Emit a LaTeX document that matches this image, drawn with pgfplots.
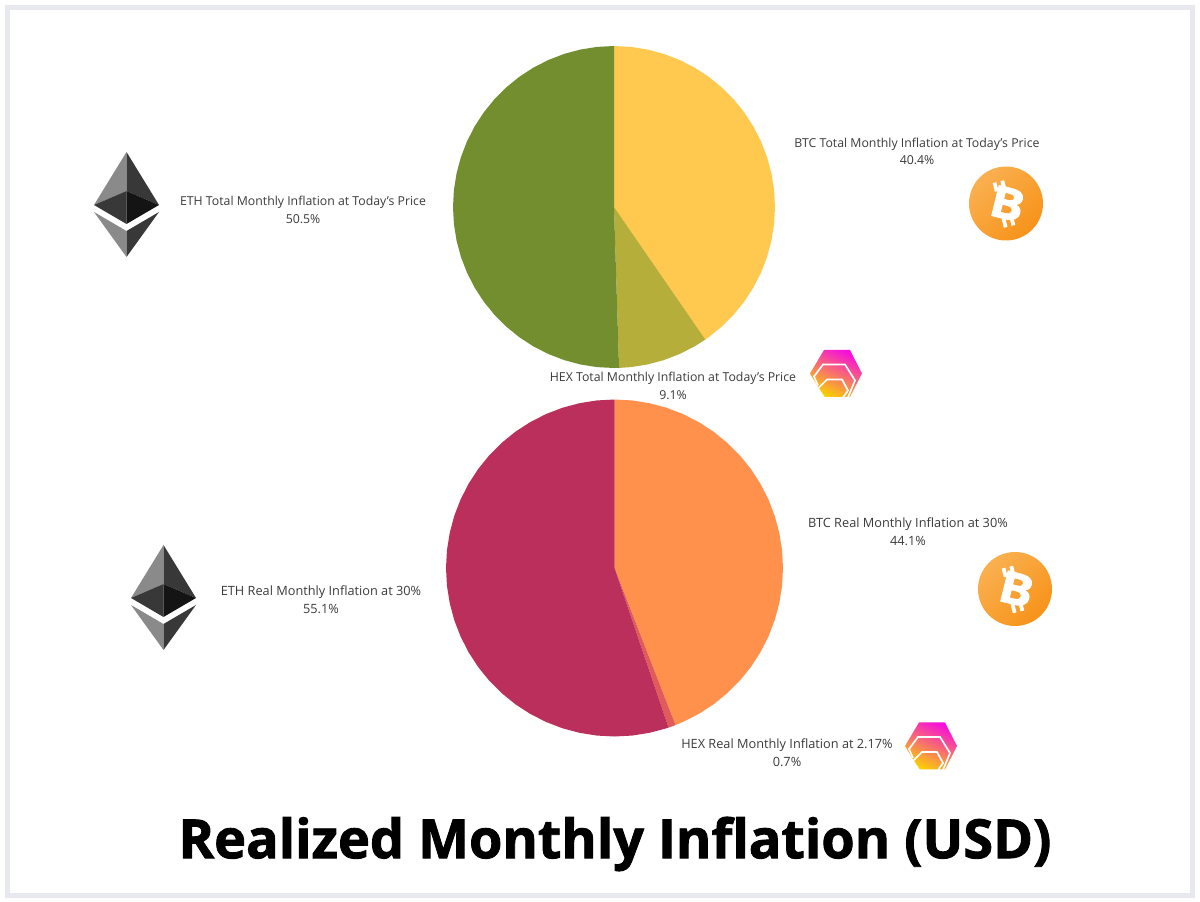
\documentclass[border=0pt]{standalone}
\usepackage{pgfplots}
\pgfplotsset{compat=1.18}
\usepackage{fontspec}
\setmainfont{Open Sans}
\newfontfamily\titlefont[BoldFeatures={FakeBold=1.6}]{Open Sans}
\definecolor{frame}{HTML}{E8E9EF}
\definecolor{btcA}{HTML}{FFC84F}
\definecolor{hexA}{HTML}{B5AE3A}
\definecolor{ethA}{HTML}{728E2E}
\definecolor{btcB}{HTML}{FF914D}
\definecolor{hexB}{HTML}{E15B5B}
\definecolor{ethB}{HTML}{BB2F5C}
\definecolor{lab}{HTML}{3A3A3A}
\tikzset{lbl/.style={font=\fontsize{12.3}{17.6}\selectfont, text=lab, align=center, inner sep=0pt},
         lblb/.style={font=\fontsize{12.75}{17.6}\selectfont, text=lab, align=center, inner sep=0pt}}
\begin{document}
\begin{tikzpicture}
\path[use as bounding box] (0,0) rectangle (1200pt,902pt);
\begin{axis}[
  at={(0pt,0pt)}, anchor=south west,
  scale only axis, width=1200pt, height=902pt,
  xmin=0, xmax=1200, ymin=0, ymax=902, y dir=reverse,
  hide axis, clip=false,
]
% --- top pie: BTC 40.4, HEX 9.1, ETH 50.5
\addplot[draw=none, fill=btcA] table[x expr={614+161*\thisrow{s}}, y expr={207-161*\thisrow{c}}] {
s c
0 0
0 1
.1045 .9945
.2079 .9781
.3090 .9511
.4067 .9135
.5 .8660
.5878 .8090
.6691 .7431
.7431 .6691
.8090 .5878
.8660 .5
.9135 .4067
.9511 .3090
.9781 .2079
.9945 .1045
1 0
.9945 -.1045
.9781 -.2079
.9511 -.3090
.9135 -.4067
.8660 -.5
.8090 -.5878
.7431 -.6691
.6691 -.7431
.5878 -.8090
.5673 -.8235
};
\addplot[draw=none, fill=hexA] table[x expr={614+161*\thisrow{s}}, y expr={207-161*\thisrow{c}}] {
s c
0 0
.5673 -.8235
.5 -.8660
.4067 -.9135
.3090 -.9511
.2079 -.9781
.1045 -.9945
.0314 -.9995
};
\addplot[draw=none, fill=ethA] table[x expr={614+161*\thisrow{s}}, y expr={207-161*\thisrow{c}}] {
s c
0 0
.0314 -.9995
0 -1
-.1045 -.9945
-.2079 -.9781
-.3090 -.9511
-.4067 -.9135
-.5 -.8660
-.5878 -.8090
-.6691 -.7431
-.7431 -.6691
-.8090 -.5878
-.8660 -.5
-.9135 -.4067
-.9511 -.3090
-.9781 -.2079
-.9945 -.1045
-1 0
-.9945 .1045
-.9781 .2079
-.9511 .3090
-.9135 .4067
-.8660 .5
-.8090 .5878
-.7431 .6691
-.6691 .7431
-.5878 .8090
-.5 .8660
-.4067 .9135
-.3090 .9511
-.2079 .9781
-.1045 .9945
0 1
};
% --- bottom pie: BTC 44.1, HEX 0.7, ETH 55.1
\addplot[draw=none, fill=btcB] table[x expr={614.5+168.5*\thisrow{s}}, y expr={568-168.5*\thisrow{c}}] {
s c
0 0
0 1
.1045 .9945
.2079 .9781
.3090 .9511
.4067 .9135
.5 .8660
.5878 .8090
.6691 .7431
.7431 .6691
.8090 .5878
.8660 .5
.9135 .4067
.9511 .3090
.9781 .2079
.9945 .1045
1 0
.9945 -.1045
.9781 -.2079
.9511 -.3090
.9135 -.4067
.8660 -.5
.8090 -.5878
.7431 -.6691
.6691 -.7431
.5878 -.8090
.5 -.8660
.4067 -.9135
.3623 -.9321
};
\addplot[draw=none, fill=hexB] table[x expr={614.5+168.5*\thisrow{s}}, y expr={568-168.5*\thisrow{c}}] {
s c
0 0
.3623 -.9321
.3209 -.9471
};
\addplot[draw=none, fill=ethB] table[x expr={614.5+168.5*\thisrow{s}}, y expr={568-168.5*\thisrow{c}}] {
s c
0 0
.3209 -.9471
.3090 -.9511
.2079 -.9781
.1045 -.9945
0 -1
-.1045 -.9945
-.2079 -.9781
-.3090 -.9511
-.4067 -.9135
-.5 -.8660
-.5878 -.8090
-.6691 -.7431
-.7431 -.6691
-.8090 -.5878
-.8660 -.5
-.9135 -.4067
-.9511 -.3090
-.9781 -.2079
-.9945 -.1045
-1 0
-.9945 .1045
-.9781 .2079
-.9511 .3090
-.9135 .4067
-.8660 .5
-.8090 .5878
-.7431 .6691
-.6691 .7431
-.5878 .8090
-.5 .8660
-.4067 .9135
-.3090 .9511
-.2079 .9781
-.1045 .9945
0 1
};
\node[lbl] at (axis cs:303,210) {ETH Total Monthly Inflation at Today's Price\\50.5\%};
\node[lbl] at (axis cs:917,151.5) {BTC Total Monthly Inflation at Today's Price\\40.4\%};
\node[lbl] at (axis cs:673,386) {HEX Total Monthly Inflation at Today's Price\\9.1\%};
\node[lblb] at (axis cs:321,600) {ETH Real Monthly Inflation at 30\%\\55.1\%};
\node[lblb] at (axis cs:908,532) {BTC Real Monthly Inflation at 30\%\\44.1\%};
\node[lblb] at (axis cs:787,753) {HEX Real Monthly Inflation at 2.17\%\\0.7\%};
\node[inner sep=0pt, font=\titlefont\bfseries\fontsize{54}{60}\selectfont, text=black] at (axis cs:615,844) {Realized Monthly Inflation (USD)};
\end{axis}
% logo shadings, in a y-up frame
\definecolor{bA}{HTML}{FAB050}
\definecolor{bC}{HTML}{F7931A}
\definecolor{hA}{HTML}{F50FDC}
\definecolor{hB}{HTML}{E8405F}
\definecolor{hC}{HTML}{FBD000}
\begin{scope}[x=1pt,y=1pt]
\foreach \a/\b in {1006/698.5,1015/313}{
\shade[shift={(\a,\b)},top color=bA,bottom color=bC,shading angle=45] (0,0) circle (37);
}
\foreach \a/\b in {836/528.5,931/156}{
\shade[shift={(\a,\b)},top color=hA,middle color=hB,bottom color=hC,shading angle=-25] (-12,-23.5) -- (14,-23.5) -- (26,0) -- (14,23.5) -- (-12,23.5) -- (-26,0) -- cycle;
}
\end{scope}
\begin{scope}[x=1pt,y=-1pt,yshift=902pt]
\draw[frame,line width=5pt] (7.5,7.5) rectangle (1192,895.5);
\foreach \a/\b in {126.5/152,163.5/545}{
\begin{scope}[shift={(\a,\b)}]
\fill[black!46] (0,0) -- (-32.5,53) -- (0,39) -- cycle;
\fill[black!78] (0,0) -- (32.5,53) -- (0,39) -- cycle;
\fill[black!78] (0,39) -- (-32.5,53) -- (0,72) -- cycle;
\fill[black!92] (0,39) -- (32.5,53) -- (0,72) -- cycle;
\fill[black!46] (-32.5,60) -- (0,79) -- (0,105) -- cycle;
\fill[black!78] (32.5,60) -- (0,79) -- (0,105) -- cycle;
\end{scope}}
\foreach \a/\b in {1006/203.5,1015/589}{
\begin{scope}[shift={(\a,\b)}]
\node[font=\titlefont\bfseries\fontsize{44}{44}\selectfont,text=white,inner sep=0pt,rotate=-14,xscale=1.15] at (1.5,0) {B};
\begin{scope}[rotate=14]
\fill[white] (-8,-23) rectangle (-4.2,-14);
\fill[white] (0,-23) rectangle (3.8,-14);
\fill[white] (-8,14) rectangle (-4.2,23);
\fill[white] (0,14) rectangle (3.8,23);
\end{scope}
\end{scope}}
\foreach \a/\b in {836/373.5,931/746}{
\begin{scope}[shift={(\a,\b)}]
\draw[white,line width=1.7pt] (-18,12) -- (-22,3) -- (-13,-9) -- (9,-9) -- (19,7) -- (12,24);
\draw[white,line width=1.7pt] (-12,24) -- (-18,15) -- (-9,6) -- (6,6) -- (12,17) -- (7,24);
\end{scope}}
\end{scope}
\end{tikzpicture}
\end{document}
